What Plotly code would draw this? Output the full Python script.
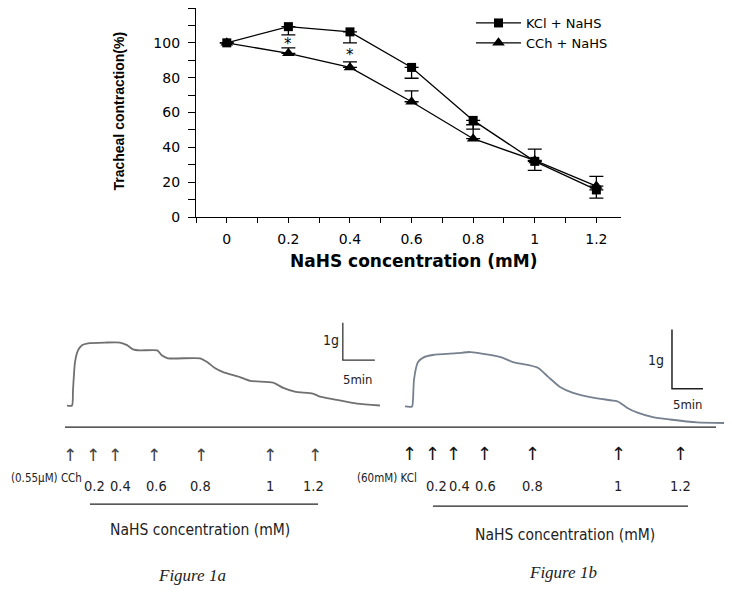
import plotly.graph_objects as go

# The page body has an 8px margin; the figure is sized to fill the remaining view.
OFF = 8
W, H = 732 - OFF, 595 - OFF


def px(x):
    return (x - OFF) / W


def py(y):
    return min(1.0, 1 - (y - OFF) / H)


# ---------------- Top chart data ----------------
conc = [0, 0.2, 0.4, 0.6, 0.8, 1.0, 1.2]
kcl_mean = [100, 109.3, 106.3, 85.9, 55.5, 32.0, 15.6]
kcl_err_minus = [0, 4.7, 6.3, 6.2, 5.0, 5.2, 4.7]
cch_mean = [100, 94.0, 85.9, 66.2, 45.0, 32.5, 17.8]
cch_err_plus = [0, 3.1, 3.2, 6.2, 8.0, 6.5, 5.6]
sig_conc = [0.2, 0.4]
series_names = ["KCl + NaHS", "CCh + NaHS"]

# ---------------- Bottom traces (time in min, tension change in g) ----------------
t_a = [0, 0.78, 0.94, 1.25, 1.72, 2.34, 3.28, 5.94, 8.28, 9.38, 10.3, 11.4, 14.1, 14.8, 15.8,
       20.8, 21.9, 23.1, 24.4, 27.0, 28.6, 32.2, 33.8, 35.6, 38.4, 39.5, 41.9, 45.3, 48.9]
g_a = [0, 0, 0.42, 1.16, 1.47, 1.61, 1.66, 1.68, 1.68, 1.61, 1.50, 1.47, 1.47, 1.34, 1.26,
       1.26, 1.16, 1.00, 0.89, 0.76, 0.66, 0.61, 0.47, 0.37, 0.32, 0.24, 0.16, 0.05, 0.0]
t_b = [0, 1.13, 1.29, 1.45, 2.1, 3.0, 4.5, 8.4, 10.5, 13.7, 15.8, 17.4, 19.9, 21.5, 23.1, 25.0,
       27.1, 30.3, 33.5, 34.4, 35.8, 37.4, 40.0, 42.7, 47.1, 52.4]
g_b = [0, 0, 0.12, 0.45, 0.75, 0.83, 0.87, 0.90, 0.92, 0.87, 0.82, 0.75, 0.70, 0.65, 0.50, 0.33,
       0.23, 0.15, 0.10, 0.08, -0.02, -0.10, -0.18, -0.22, -0.27, -0.28]
dose_labels = ["0.2", "0.4", "0.6", "0.8", "1", "1.2"]
add_t_a = [0.5, 4.0, 7.5, 13.6, 20.9, 31.7, 38.8]   # CCh, then NaHS doses
add_t_b = [0.65, 4.5, 7.9, 12.9, 20.5, 34.4, 44.4]  # KCl, then NaHS doses
agonist_a = "(0.55µM) CCh"
agonist_b = "(60mM) KCl"
SCALE_MIN = 5
SCALE_G = 1

fig = go.Figure()

# ---- top chart traces
fig.add_trace(go.Scatter(
    x=conc, y=kcl_mean, name=series_names[0], mode="lines+markers",
    line=dict(color="black", width=1.3),
    marker=dict(symbol="square", size=9, color="black"),
    error_y=dict(type="data", symmetric=False, array=[0] * len(conc),
                 arrayminus=kcl_err_minus, color="black", thickness=1.3, width=7),
    xaxis="x", yaxis="y"))
fig.add_trace(go.Scatter(
    x=conc, y=cch_mean, name=series_names[1], mode="lines+markers",
    line=dict(color="black", width=1.3),
    marker=dict(symbol="triangle-up", size=11, color="black"),
    error_y=dict(type="data", symmetric=False, array=cch_err_plus,
                 arrayminus=[0] * len(conc), color="black", thickness=1.3, width=7),
    xaxis="x", yaxis="y"))

# ---- bottom recordings
fig.add_trace(go.Scatter(x=t_a, y=g_a, mode="lines", showlegend=False,
                         line=dict(color="#707070", width=1.8, shape="spline", smoothing=0.6),
                         xaxis="x2", yaxis="y2", hoverinfo="skip"))
fig.add_trace(go.Scatter(x=t_b, y=g_b, mode="lines", showlegend=False,
                         line=dict(color="#76808e", width=1.8, shape="spline", smoothing=0.6),
                         xaxis="x3", yaxis="y3", hoverinfo="skip"))

# scale bars
sb_a = (43.1, 1.21)
sb_b = (43.06, 0.30)
fig.add_trace(go.Scatter(x=[sb_a[0], sb_a[0], sb_a[0] + SCALE_MIN],
                         y=[sb_a[1] + SCALE_G, sb_a[1], sb_a[1]], mode="lines",
                         line=dict(color="#333", width=1.3), showlegend=False,
                         xaxis="x2", yaxis="y2", hoverinfo="skip"))
fig.add_trace(go.Scatter(x=[sb_b[0], sb_b[0], sb_b[0] + SCALE_MIN],
                         y=[sb_b[1] + SCALE_G, sb_b[1], sb_b[1]], mode="lines",
                         line=dict(color="#222", width=1.5), showlegend=False,
                         xaxis="x3", yaxis="y3", hoverinfo="skip"))

tickfont = dict(family="DejaVu Sans", size=14, color="black")
fig.update_layout(
    width=W, height=H, autosize=False,
    margin=dict(l=0, r=0, t=0, b=0),
    paper_bgcolor="white", plot_bgcolor="white",
    showlegend=True,
    legend=dict(x=px(471), y=1.0, xanchor="left", yanchor="top",
                font=dict(family="DejaVu Sans", size=13, color="black"),
                bgcolor="rgba(0,0,0,0)", tracegroupgap=0, itemwidth=45),
    xaxis=dict(domain=[px(196), px(621)], range=[-0.1, 1.28], anchor="y",
               tick0=0, dtick=0.2, ticks="outside", ticklen=5, tickwidth=1.3, tickcolor="black",
               minor=dict(dtick=0.1, tick0=0, ticks="outside", ticklen=5, tickwidth=1.3,
                          tickcolor="black"),
               showline=True, linecolor="black", linewidth=1.3, showgrid=False, zeroline=False,
               tickfont=tickfont, ticklabelstandoff=4),
    yaxis=dict(domain=[py(220), py(8)], range=[0, 120], anchor="x",
               tick0=0, dtick=20, ticks="outside", ticklen=7, tickwidth=1.3, tickcolor="black",
               minor=dict(dtick=10, tick0=0, ticks="outside", ticklen=7, tickwidth=1.3,
                          tickcolor="black"),
               showline=True, linecolor="black", linewidth=1.3, showgrid=False, zeroline=False,
               tickfont=tickfont, ticklabelstandoff=5),
    xaxis2=dict(domain=[px(55), px(390)], range=[-1.875, 50.47], anchor="y2", visible=False),
    yaxis2=dict(domain=[py(440), py(320)], range=[-0.763, 2.395], anchor="x2", visible=False),
    xaxis3=dict(domain=[px(395), 1.0], range=[-1.613, 52.74], anchor="y3", visible=False),
    yaxis3=dict(domain=[py(440), py(320)], range=[-0.467, 1.533], anchor="x3", visible=False),
)


def note(x, y, text, font, xref="paper", xanchor="center", **kw):
    d = dict(x=x, y=y, xref=xref, yref="paper", showarrow=False, text=text, font=font,
             xanchor=xanchor, yanchor="middle")
    d.update(kw)
    return d


NARROW = "Liberation Sans Narrow, DejaVu Sans Condensed, Liberation Sans"

ann = []
# axis titles
ann.append(note(px(414), py(264), "<b>NaHS concentration (mM)</b>",
                dict(family="DejaVu Sans", size=17, color="black")))
ann.append(note(px(119), py(113), "<b>Tracheal contraction(%)</b>",
                dict(family="Liberation Sans", size=14, color="black"), textangle=-90))
# significance asterisks
for c in sig_conc:
    i = conc.index(c)
    ymid = (kcl_mean[i] - kcl_err_minus[i] + cch_mean[i] + cch_err_plus[i]) / 2
    ann.append(dict(x=c, y=ymid, xref="x", yref="y", showarrow=False, text="*", yshift=-3,
                    xanchor="center", yanchor="middle",
                    font=dict(family="DejaVu Sans", size=15, color="black")))

arrow_font_a = dict(family="DejaVu Sans", size=17, color="#444")
arrow_font_b = dict(family="DejaVu Sans", size=18, color="#111")
lab_font = dict(family=NARROW, size=14.5, color="#222")
title_font = dict(family=NARROW, size=15.5, color="#222")
small_font = dict(family=NARROW, size=11.5, color="#222")
shift_a = [2, 5, 2, 0, 0, -2]
shift_b = [4, 6, 1, 0, 0, 0]
for t in add_t_a:
    ann.append(note(t, py(461), "↑", arrow_font_a, xref="x2"))
for t in add_t_b:
    ann.append(note(t, py(460), "↑", arrow_font_b, xref="x3"))
for t, lab, s in zip(add_t_a[1:], dose_labels, shift_a):
    ann.append(note(t, py(493), lab, lab_font, xref="x2", xshift=s))
for t, lab, s in zip(add_t_b[1:], dose_labels, shift_b):
    ann.append(note(t, py(493), lab, lab_font, xref="x3", xshift=s))
ann.append(note(px(9), py(485), agonist_a, small_font, xanchor="left"))
ann.append(note(px(419), py(485), agonist_b, small_font, xanchor="right"))
ann.append(note(px(200), py(537), "NaHS concentration (mM)", title_font))
ann.append(note(px(565), py(542), "NaHS concentration (mM)", title_font))
ann.append(note(px(192), py(583), "<i>Figure 1a</i>",
                dict(family="Liberation Serif", size=17, color="#222")))
ann.append(note(px(563), py(580), "<i>Figure 1b</i>",
                dict(family="Liberation Serif", size=17, color="#222")))
# scale bar labels
sb_font = dict(family=NARROW, size=13, color="#222")
g_font = dict(family=NARROW, size=14, color="#222")
ann.append(note(px(341), py(345), "1g", g_font, xanchor="right"))
ann.append(note(px(358), py(385), "5min", sb_font))
ann.append(note(px(666), py(365), "1g", g_font, xanchor="right"))
ann.append(note(px(688), py(410), "5min", sb_font))
fig.update_layout(annotations=ann)

shapes = [
    dict(type="line", xref="paper", yref="paper", x0=px(65), x1=px(716), y0=py(433), y1=py(433),
         line=dict(color="#222", width=1.3)),
    dict(type="line", xref="paper", yref="paper", x0=px(90), x1=px(318), y0=py(511), y1=py(511),
         line=dict(color="#222", width=1.3)),
    dict(type="line", xref="paper", yref="paper", x0=px(433), x1=px(688), y0=py(513), y1=py(513),
         line=dict(color="#222", width=1.3)),
]
fig.update_layout(shapes=shapes)

fig.write_html("out.html")
